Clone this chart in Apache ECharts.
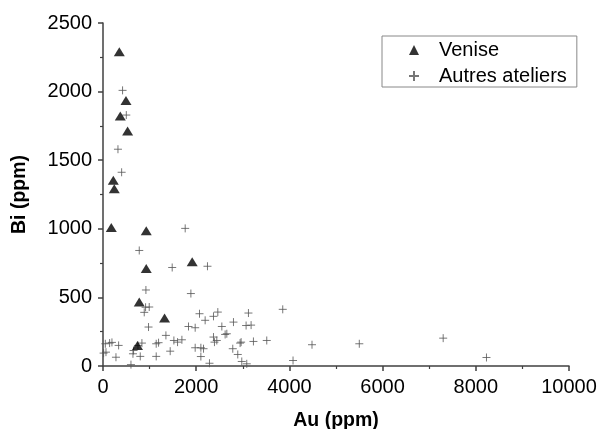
<!DOCTYPE html>
<html>
<head>
<meta charset="utf-8">
<script src="https://cdn.jsdelivr.net/npm/echarts@6/dist/echarts.min.js"></script>
<style>
  html, body { margin: 0; padding: 0; background: #fff; }
  #main { width: 597px; height: 429px; }
</style>
</head>
<body>
<div id="main"></div>
<script>
// Venise samples [Au, Bi]
var venise = [
  [350, 2290], [493, 1936], [371, 1822], [528, 1712], [221, 1354], [242, 1292],
  [178, 1010], [928, 985], [928, 710], [1914, 759], [778, 466], [1321, 349], [740, 150]
];

// other workshops [Au, Bi]
var autres = [
  [420, 2009], [500, 1829], [321, 1580], [400, 1412],
  [1764, 1003], [778, 842], [1485, 718], [2242, 727], [921, 554], [1886, 528],
  [914, 428], [992, 430], [885, 391], [2071, 381], [2192, 333], [2371, 362], [2464, 393],
  [977, 284], [1835, 288], [1978, 279], [2550, 288], [2800, 320], [3121, 386], [3071, 295], [3178, 298],
  [3857, 413],
  [1350, 223], [1142, 162], [1192, 170], [1521, 186], [1600, 174], [1693, 191],
  [2371, 211], [2392, 174], [2442, 186], [2621, 230], [2657, 235], [2942, 167], [2964, 174], [3228, 179], [3514, 186],
  [2785, 126], [2892, 84], [2978, 33], [3085, 16],
  [1978, 133], [2100, 133], [2157, 126], [2100, 69], [2285, 20],
  [1442, 108], [1142, 70], [656, 113], [643, 89], [800, 70], [600, 10], [835, 167], [750, 150],
  [50, 162], [142, 167], [192, 172], [335, 150], [64, 101], [13, 94], [278, 64],
  [4078, 40], [4485, 155], [5500, 162], [7300, 203], [8229, 62]
];

var xTicks = { min: 0, max: 10000, step: 2000 };
var yTicks = { min: 0, max: 2500, step: 500 };

var plus = 'path://M0,5L10,5M5,0L5,10';
var font = 'Liberation Sans, Arial, sans-serif';

var chart = echarts.init(document.getElementById('main'));

function axisStyle() {
  return {
    axisLine: { show: true, lineStyle: { color: '#404040', width: 1.5 } },
    axisTick: { show: true, inside: false, length: 5, lineStyle: { color: '#404040', width: 1.5 } },
    minorTick: { show: true, splitNumber: 2, length: 3, lineStyle: { color: '#404040', width: 1.2 } },
    splitLine: { show: false },
    axisLabel: {
      color: '#000', fontSize: 20, fontFamily: font, margin: 11,
      formatter: function (v) { return String(v); }
    },
    nameTextStyle: { color: '#000', fontSize: 19.5, fontWeight: 'bold', fontFamily: font }
  };
}

var xAxis = Object.assign(axisStyle(), {
  type: 'value', name: 'Au (ppm)', nameLocation: 'middle', nameGap: 45,
  min: xTicks.min, max: xTicks.max, interval: xTicks.step
});
var yAxis = Object.assign(axisStyle(), {
  type: 'value', name: 'Bi (ppm)', nameLocation: 'middle', nameGap: 73,
  min: yTicks.min, max: yTicks.max, interval: yTicks.step
});

chart.setOption({
  animation: false,
  backgroundColor: '#fff',
  textStyle: { fontFamily: font },
  grid: { left: 103, right: 28, top: 23, bottom: 63, containLabel: false, outerBoundsMode: 'none' },
  legend: {
    orient: 'vertical',
    left: 382, top: 36,
    borderColor: '#888', borderWidth: 1,
    padding: [4, 10, 1, 26],
    itemGap: 6,
    itemWidth: 10, itemHeight: 10,
    textStyle: { fontSize: 20, color: '#000', fontFamily: font, padding: [0, 0, 0, 15] },
    data: ['Venise', 'Autres ateliers']
  },
  xAxis: xAxis,
  yAxis: yAxis,
  series: [
    {
      name: 'Autres ateliers',
      type: 'scatter',
      symbol: plus,
      symbolSize: 8,
      itemStyle: { color: 'transparent', borderColor: '#555', borderWidth: 1 },
      data: autres
    },
    {
      name: 'Venise',
      type: 'scatter',
      symbol: 'triangle',
      symbolSize: [11, 9],
      itemStyle: { color: '#000' },
      data: venise
    }
  ]
});
</script>
</body>
</html>
